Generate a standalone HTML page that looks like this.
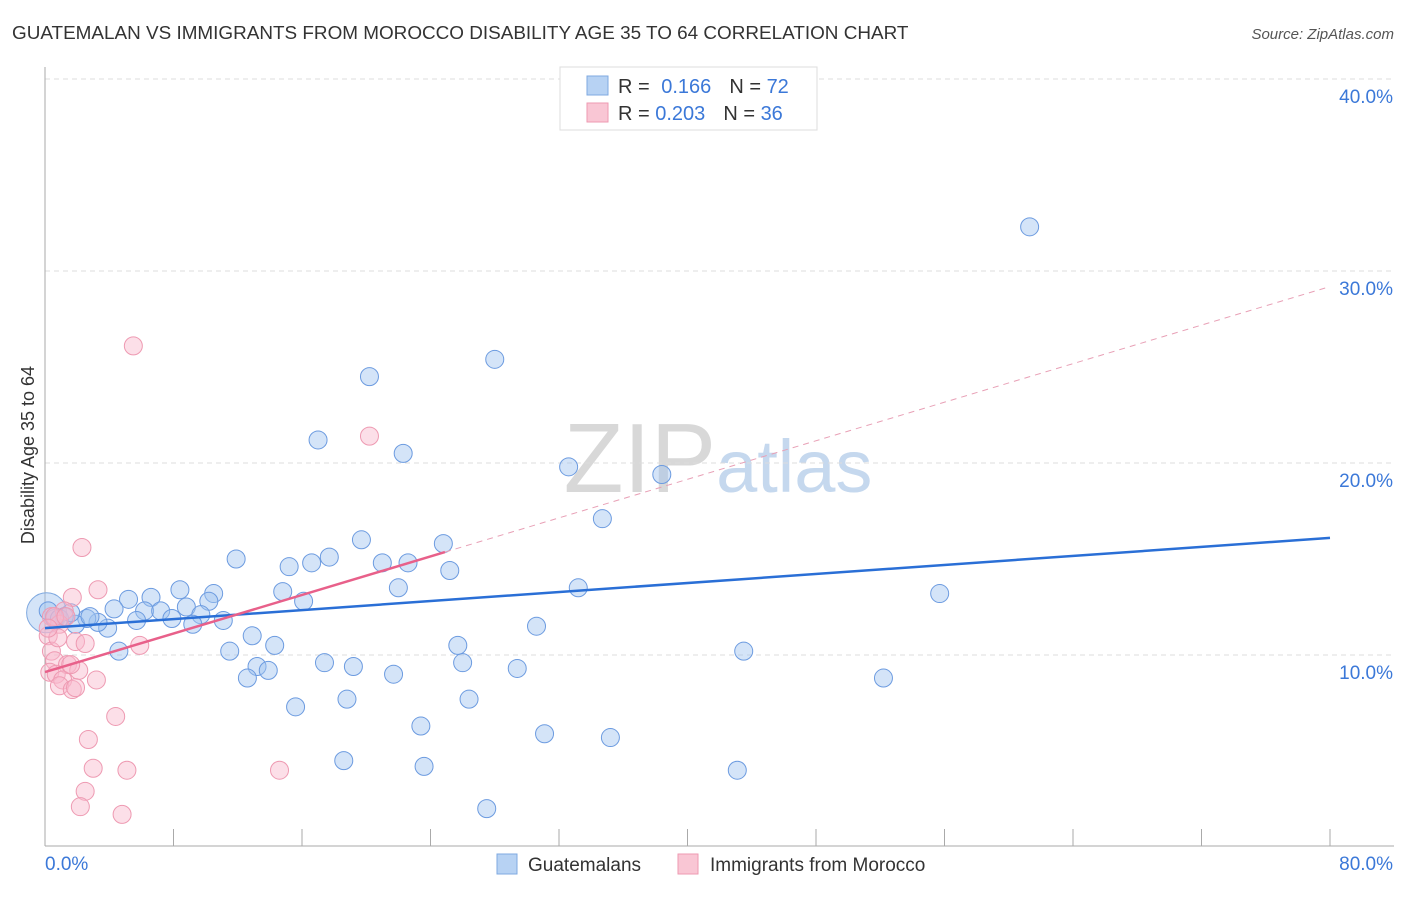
<!DOCTYPE html>
<html><head><meta charset="utf-8"><style>
body{margin:0;background:#fff;font-family:"Liberation Sans",sans-serif;}
svg text{font-family:"Liberation Sans",sans-serif;}
</style></head><body>
<svg width="1406" height="892" viewBox="0 0 1406 892">
<text x="12" y="39" font-size="18.9" fill="#333">GUATEMALAN VS IMMIGRANTS FROM MOROCCO DISABILITY AGE 35 TO 64 CORRELATION CHART</text>
<text x="1394" y="39" font-size="15" fill="#555" font-style="italic" text-anchor="end">Source: ZipAtlas.com</text>
<text x="718" y="492" font-size="98" fill="#d8d8d8" text-anchor="middle" font-family="Liberation Serif">ZIP<tspan fill="#c5d8ee" font-family="Liberation Sans" font-size="74">atlas</tspan></text>
<g id="grid"></g>
<g id="axes"></g>
<g id="pts"></g>
<g id="lines"></g>
<text transform="translate(34,455) rotate(-90)" font-size="18" fill="#333" text-anchor="middle">Disability Age 35 to 64</text>
<g>
<rect x="560" y="67" width="257" height="63" fill="#fff" stroke="#ddd"/>
<rect x="587" y="76" width="21" height="19" fill="#b7d2f3" stroke="#7fa9e0"/>
<rect x="587" y="103" width="21" height="19" fill="#f9c6d4" stroke="#ee9ab2"/>
<text x="618" y="93" font-size="20" fill="#333">R = <tspan fill="#3b78d8" dx="6">0.166</tspan><tspan dx="18" fill="#333">N = </tspan><tspan fill="#3b78d8">72</tspan></text>
<text x="618" y="120" font-size="20" fill="#333">R = <tspan fill="#3b78d8">0.203</tspan><tspan dx="18" fill="#333">N = </tspan><tspan fill="#3b78d8">36</tspan></text>
</g>
<g>
<rect x="497" y="854" width="20" height="20" fill="#b7d2f3" stroke="#7fa9e0"/>
<text x="528" y="871" font-size="19" fill="#333">Guatemalans</text>
<rect x="678" y="854" width="20" height="20" fill="#f9c6d4" stroke="#ee9ab2"/>
<text x="710" y="871" font-size="19" fill="#333">Immigrants from Morocco</text>
</g>
</svg>
<script>
const yTicks=[10,20,30,40];
const yTickLabels=["10.0%","20.0%","30.0%","40.0%"];
const xTickLabels=["0.0%","80.0%"];
const blueX=[61.3,28.0,20.2,17.0,22.3,32.6,38.4,34.7,19.7,24.8,11.9,17.7,16.6,15.2,21.0,22.6,25.2,22.0,33.2,8.4,5.2,6.6,10.5,14.8,16.1,55.7,4.3,6.2,7.2,8.8,10.2,9.7,7.9,5.7,9.2,11.1,3.9,3.3,2.6,1.9,1.2,0.6,0.2,30.6,12.9,14.3,25.7,4.6,11.5,43.5,17.4,19.2,26.0,29.4,13.2,13.9,21.7,12.6,52.2,18.8,26.4,15.6,23.4,31.1,35.2,18.6,23.6,43.1,27.5,0.9,1.6,2.8];
const blueY=[32.3,25.4,24.5,21.2,20.5,19.8,19.4,17.1,16.0,15.8,15.0,15.1,14.8,14.6,14.8,14.8,14.4,13.5,13.5,13.4,12.9,13.0,13.2,13.3,12.8,13.2,12.4,12.3,12.3,12.5,12.8,12.1,11.9,11.8,11.6,11.8,11.4,11.7,11.9,11.6,12.0,11.9,12.3,11.5,11.0,10.5,10.5,10.2,10.2,10.2,9.6,9.4,9.6,9.3,9.4,9.2,9.0,8.8,8.8,7.7,7.7,7.3,6.3,5.9,5.7,4.5,4.2,4.0,2.0,11.9,12.2,12.0];
const pinkX=[5.5,20.2,2.3,3.3,1.7,1.2,0.4,0.9,0.2,1.9,2.5,5.9,0.4,0.6,1.4,2.1,0.3,0.7,1.1,3.2,0.9,1.7,1.9,4.4,2.7,3.0,5.1,14.6,2.5,2.2,4.8,0.6,1.3,1.6,0.8,0.2];
const pinkY=[26.1,21.4,15.6,13.4,13.0,12.3,12.0,11.6,11.0,10.7,10.6,10.5,10.2,9.7,9.5,9.2,9.1,9.0,8.7,8.7,8.4,8.2,8.3,6.8,5.6,4.1,4.0,4.0,2.9,2.1,1.7,12.0,12.0,9.5,10.9,11.4];
const blueLine=[11.4,16.1];
const pinkLine=[9.11,15.36];
const pinkSolidEnd=24.9;
const sx=v=>45+v/80*1285, sy=v=>847-v*19.2;
const NS="http://www.w3.org/2000/svg";
function mk(tag,attrs,parent){const e=document.createElementNS(NS,tag);for(const k in attrs)e.setAttribute(k,attrs[k]);document.getElementById(parent).appendChild(e);return e;}
yTicks.forEach((t,i)=>{
const g=mk('line',{x1:45,x2:1394,y1:sy(t),y2:sy(t),stroke:'#ddd','stroke-dasharray':'5,4'},'grid');


const l=mk('text',{x:1393,y:sy(t)+24,'font-size':19,fill:'#3b78d8','text-anchor':'end'},'grid');
l.textContent=yTickLabels[i];


});
const ax=mk('line',{x1:45,x2:45,y1:67,y2:846,stroke:'#aaa'},'axes');


const bx=mk('line',{x1:45,x2:1394,y1:846,y2:846,stroke:'#aaa'},'axes');


for(let i=1;i<=10;i++){const t=mk('line',{x1:45+i*128.5,x2:45+i*128.5,y1:829,y2:846,stroke:'#aaa'},'axes');

}
[[xTickLabels[0],45,'start'],[xTickLabels[1],1393,'end']].forEach(([s,x,a])=>{const t=mk('text',{x:x,y:870,'font-size':19,fill:'#3b78d8','text-anchor':a},'axes');t.textContent=s;

});
const big=mk('circle',{cx:sx(0.1),cy:sy(12.2),r:20,fill:'rgba(160,195,240,0.45)',stroke:'#7fa9e0'},'pts');


blueX.forEach((x,i)=>{const c=mk('circle',{cx:sx(x),cy:sy(blueY[i]),r:9,fill:'rgba(160,195,240,0.45)',stroke:'#6c9be0','stroke-width':1},'pts');

});
pinkX.forEach((x,i)=>{const c=mk('circle',{cx:sx(x),cy:sy(pinkY[i]),r:9,fill:'rgba(248,185,204,0.45)',stroke:'#ee9ab2','stroke-width':1},'pts');

});
const bl=mk('line',{x1:sx(0),y1:sy(blueLine[0]),x2:sx(80),y2:sy(blueLine[1]),stroke:'#2a6fd6','stroke-width':2.5},'lines');


const slope=(pinkLine[1]-pinkLine[0])/pinkSolidEnd;
const pl=mk('line',{x1:sx(0),y1:sy(pinkLine[0]),x2:sx(pinkSolidEnd),y2:sy(pinkLine[1]),stroke:'#e8608a','stroke-width':2.5},'lines');


const pd=mk('line',{x1:sx(pinkSolidEnd),y1:sy(pinkLine[1]),x2:sx(80),y2:sy(pinkLine[0]+slope*80),stroke:'#e8a0b6','stroke-width':1,'stroke-dasharray':'6,5'},'lines');


</script>
</body></html>
